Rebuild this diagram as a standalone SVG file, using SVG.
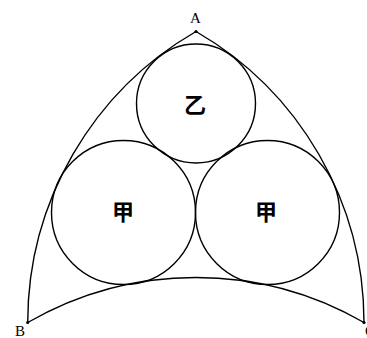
<svg xmlns="http://www.w3.org/2000/svg" width="367" height="338" viewBox="0 0 367 338">
<style>
.ln{fill:none;stroke:#000;stroke-width:1.4}
.c{fill:none;stroke:#000;stroke-width:1.4}
.lbl{font-family:"Liberation Serif",serif;font-size:15px;fill:#000}
.cjk{font-family:"Noto Sans CJK SC","Noto Sans CJK JP",sans-serif;font-size:22px;font-weight:700;fill:#000;text-anchor:middle}
.pt{fill:#000}
</style>
<rect width="367" height="338" fill="#fff"/>
<g id="connectors">
<path class="ln" d="M196,31.5 A336.3,336.3 0 0 0 27.7,322.5"/>
<path class="ln" d="M196,31.5 A336.3,336.3 0 0 1 364,322.5"/>
<path class="ln" d="M27.7,322.5 A336.3,336.3 0 0 1 364,322.5"/>
</g>
<g id="A">
<circle class="pt" cx="196" cy="31.5" r="1.6"/>
<text class="lbl" x="195.5" y="23" text-anchor="middle">A</text>
</g>
<g id="B">
<circle class="pt" cx="27.7" cy="322.5" r="1.6"/>
<text class="lbl" x="20" y="336" text-anchor="middle">B</text>
</g>
<g id="C">
<circle class="pt" cx="364" cy="322.5" r="1.6"/>
<text class="lbl" x="365" y="336">C</text>
</g>
<g id="yi">
<circle class="c" cx="196" cy="103.5" r="59.5"/>
<text class="cjk" x="195" y="113">乙</text>
</g>
<g id="jia-left">
<circle class="c" cx="123.5" cy="212.5" r="72"/>
<text class="cjk" x="123" y="220">甲</text>
</g>
<g id="jia-right">
<circle class="c" cx="267.5" cy="212.5" r="72"/>
<text class="cjk" x="266" y="220">甲</text>
</g>
</svg>
